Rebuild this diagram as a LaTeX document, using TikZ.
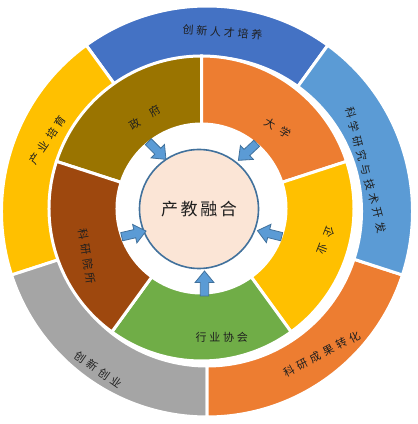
\documentclass[tikz,border=0pt]{standalone}
\usepackage{fontspec}
\newfontfamily\cjk[LetterSpace=35]{Noto Sans CJK SC}
\newfontfamily\cjknarrow[LetterSpace=25]{Noto Sans CJK SC}
\newfontfamily\cjkbig[LetterSpace=15]{Noto Sans CJK SC}
\definecolor{ringblue}{HTML}{4472C4}
\definecolor{ringsky}{HTML}{5B9BD5}
\definecolor{ringorange}{HTML}{ED7D31}
\definecolor{ringgrey}{HTML}{A5A5A5}
\definecolor{ringyellow}{HTML}{FFC000}
\definecolor{govbrown}{HTML}{9A7400}
\definecolor{instbrown}{HTML}{9E480E}
\definecolor{assocgreen}{HTML}{70AD47}
\definecolor{circfill}{HTML}{FBE5D6}
\definecolor{circline}{HTML}{41719C}
\begin{document}
\begin{tikzpicture}[x=1pt,y=1pt,
        seg/.style={draw=white,line width=3pt},
        lbl/.style={font=\cjk\fontsize{11}{11}\selectfont,text=black!88,inner sep=0pt},
        flat/.style={lbl,font=\cjknarrow\fontsize{11}{11}\selectfont},
        inarrow/.style={fill=ringsky,draw=circline,line width=0.8pt}]
    \useasboundingbox (0,0) rectangle (418,424);
    \coordinate (outer) at (207,212.5);
    \coordinate (inner) at (201.5,215.5);
    %% outer ring
    \foreach \a/\col in {54/ringblue,126/ringyellow,198/ringgrey,270/ringorange,342/ringsky}
        \draw[seg,fill=\col,shift={(outer)}] (\a:205.5) arc[start angle=\a,end angle=\a+72,radius=205.5]
            -- (\a+72:154.5) arc[start angle=\a+72,end angle=\a,radius=154.5] -- cycle;
    %% inner ring
    \foreach \a/\col in {90/govbrown,18/ringorange,-54/ringyellow,-126/assocgreen,162/instbrown}
        \draw[seg,fill=\col,shift={(inner)}] (\a:152.5) arc[start angle=\a,end angle=\a+72,radius=152.5]
            -- (\a+72:84.5) arc[start angle=\a+72,end angle=\a,radius=84.5] -- cycle;
    %% outer labels
    \node[flat,rotate=-4] (talent) at (222.5,392) {创新人才培养};
    \node[lbl,rotate=-75] (research) at (366,254) {科学研究与技术开发};
    \node[lbl,rotate=28] (transfer) at (321.7,69.8) {科研成果转化};
    \node[lbl,rotate=-35] (startup) at (98.3,54.5) {创新创业};
    \node[lbl,rotate=56] (industry) at (47.5,284) {产业培育};
    %% inner labels
    \node[lbl,rotate=32] (gov) at (145,306.5) {政\hspace{13pt}府};
    \node[lbl,rotate=-30] (uni) at (278,295.7) {大\hspace{7pt}学};
    \node[lbl,rotate=-111] (firm) at (325.8,183.2) {企\hspace{8pt}业};
    \node[flat] (assoc) at (221.7,87) {行业协会};
    \node[lbl,rotate=-81] (inst) at (86.7,167.3) {科研院所};
    %% centre
    \node[circle,draw=circline,line width=1.6pt,fill=circfill,minimum size=119pt,inner sep=0pt,
        font=\cjkbig\fontsize{17}{17}\selectfont,text=black!88] (core) at (199,215) {产教融合};
    %% arrows into the centre
    \foreach \x/\y/\a in {148.3/282.3/-45,256.7/280.7/223,281.7/187.3/166,204.5/128/90,121.7/187.3/13}
        \draw[inarrow,shift={(\x,\y)},rotate=\a] (0,-4.2) -- (13.4,-4.2) -- (13.4,-9.5) -- (25,0)
            -- (13.4,9.5) -- (13.4,4.2) -- (0,4.2) -- cycle;
\end{tikzpicture}
\end{document}
